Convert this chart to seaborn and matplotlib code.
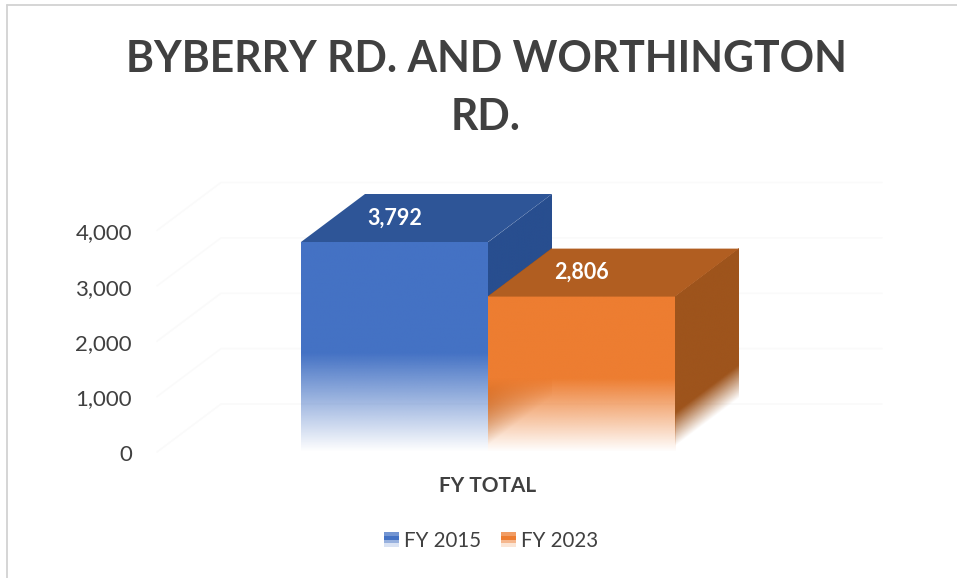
import numpy as np
import pandas as pd
import matplotlib
matplotlib.use("Agg")
import matplotlib.pyplot as plt
import seaborn as sns
from matplotlib.colors import to_rgb
from matplotlib.legend_handler import HandlerBase
from matplotlib.lines import Line2D
from matplotlib.patches import Patch, Polygon, Rectangle
from matplotlib.transforms import Affine2D, ScaledTranslation

title_text = "BYBERRY RD. AND WORTHINGTON\nRD."
categories = ["FY TOTAL"]
series_names = ["FY 2015", "FY 2023"]
series_values = [3792, 2806]
y_ticks = [0, 1000, 2000, 3000, 4000]

front_colors = ["#4472C4", "#ED7D31"]
top_colors = ["#2E5597", "#B15E21"]
side_colors = ["#284E8F", "#9E541C"]
ink = "#404040"

W, H = 957, 578
sns.set_theme(style="white")
plt.rcParams["font.family"] = ["Lato", "DejaVu Sans"]

fig = plt.figure(figsize=(W / 100, H / 100), dpi=100, facecolor="white")
left_px, right_px, base_px, top_px = 157, 882, 452, 172
ax = fig.add_axes([left_px / W, 1 - base_px / H, (right_px - left_px) / W, (base_px - top_px) / H])
ax.patch.set_alpha(0)

df = pd.DataFrame({"category": categories * len(series_names),
                   "series": series_names, "value": series_values})
sns.barplot(data=df, x="category", y="value", hue="series", hue_order=series_names,
            palette=front_colors, width=0.8, saturation=1, legend=False, ax=ax)

px_per_x = 187 / 0.4
px_per_y = 210 / 3792
xlim = ((left_px - 488) / px_per_x, (right_px - 488) / px_per_x)
ylim = (0, (base_px - top_px) / px_per_y)
depth_x = 64 / px_per_x
depth_y = 48 / px_per_y
fade_fraction = 0.47
inner_fade = (120, 1100)
outer_fade = (100, 700)


def side_face(x0, low, high, rgb, z, fade=None):
    """Sheared image from low to high receding behind x0, fading near its lower edge."""
    levels = np.linspace(low, high, 256)
    alpha = np.ones(256) if fade is None else np.clip((levels - fade[0]) / (fade[1] - fade[0]), 0, 1)
    img = np.ones((256, 1, 4))
    img[..., :3] = rgb
    img[:, 0, 3] = alpha
    im = ax.imshow(img, origin="lower", extent=(0, 1, low, high), aspect="auto",
                   interpolation="bilinear", zorder=z)
    shear = Affine2D(np.array([[depth_x, 0, x0], [depth_y, 1, 0], [0, 0, 1]]))
    im.set_transform(shear + ax.transData)
    return im


# faint back-wall and side-wall gridlines
for v in y_ticks:
    xs = [xlim[0], xlim[0] + depth_x, xlim[1]]
    ys = [v, v + depth_y, v + depth_y]
    ax.plot(xs, ys, color="#fafafa", lw=1.2, zorder=0.5, clip_on=False)

bars = list(ax.patches)[:len(series_values)]
for i, (bar, value) in enumerate(zip(bars, series_values)):
    x0, x1 = bar.get_x(), bar.get_x() + bar.get_width()
    base_z = 2 + i * 4
    rgb = to_rgb(front_colors[i])
    ramp = np.clip(np.linspace(0, 1, 256) / fade_fraction, 0, 1)
    img = np.ones((256, 1, 4))
    img[..., :3] = rgb
    img[:, 0, 3] = ramp
    bar.set_facecolor("none")
    bar.set_edgecolor("none")
    if i > 0:
        side_face(x0, 0, value, to_rgb(side_colors[i]), base_z, fade=inner_fade)
    ax.imshow(img, origin="lower", extent=(x0, x1, 0, value), aspect="auto",
              interpolation="bilinear", zorder=base_z + 1)
    next_value = series_values[i + 1] if i + 1 < len(series_values) else 0
    fade = outer_fade if next_value == 0 else None
    side_face(x1, next_value, value, to_rgb(side_colors[i]), base_z + 1, fade=fade)
    ax.add_patch(Polygon([(x0, value), (x1, value), (x1 + depth_x, value + depth_y), (x0 + depth_x, value + depth_y)],
                         closed=True, facecolor=top_colors[i], edgecolor="none", zorder=base_z + 2))
    ax.text((x0 + x1) / 2, value + depth_y / 2, f"{value:,}", color="white",
            fontsize=15.5, fontweight="bold", ha="center", va="center", zorder=base_z + 3)

ax.set_xlim(*xlim)
ax.set_ylim(*ylim)
ax.set_yticks(y_ticks)
ax.set_yticklabels([f"{v:,}" for v in y_ticks], fontsize=16, color=ink)
ax.set_xticks([0])
ax.set_xticklabels(categories, fontsize=15, fontweight="bold", color=ink)
ax.tick_params(axis="y", length=0, pad=18)
ax.tick_params(axis="x", length=0, pad=17)
ax.set_xlabel("")
ax.set_ylabel("")
sns.despine(ax=ax, left=True, bottom=True)
nudge = ScaledTranslation(0, -0.8 / 100, fig.dpi_scale_trans)
for lab in ax.get_yticklabels():
    lab.set_transform(lab.get_transform() + nudge)


class FadedSwatch(HandlerBase):
    def create_artists(self, legend, orig, xd, yd, w, h, fontsize, trans):
        rgb = to_rgb(orig.get_facecolor())
        alphas = [0.2, 0.55, 1.0, 0.75]
        out = []
        for k, a in enumerate(alphas):
            out.append(Rectangle((-xd, -yd + k * h / 4), w, h / 4, facecolor=(*rgb, a),
                                 edgecolor="none", transform=trans))
        return out


handles = [Patch(facecolor=c, label=n) for c, n in zip(front_colors, series_names)]
leg = fig.legend(handles=handles, loc="center", bbox_to_anchor=(491 / W, 1 - 541 / H), ncol=2,
                 frameon=False, fontsize=14.8, labelcolor=ink, handlelength=0.72, handleheight=0.72,
                 handletextpad=0.25, columnspacing=0.95,
                 handler_map={Patch: FadedSwatch()})

fig.text(486 / W, 1 - 88 / H, title_text, ha="center", va="center", fontsize=30.7,
         fontweight="bold", color=ink, linespacing=1.56)

# thin grey frame along the top and left edges
frame = "#d2d2d2"
fig.add_artist(Line2D([7 / W, 7 / W], [0, 1 - 5 / H], color=frame, lw=1.3))
fig.add_artist(Line2D([7 / W, 1], [1 - 5 / H, 1 - 5 / H], color=frame, lw=1.3))

fig.savefig("out.png", dpi=100, facecolor="white")
